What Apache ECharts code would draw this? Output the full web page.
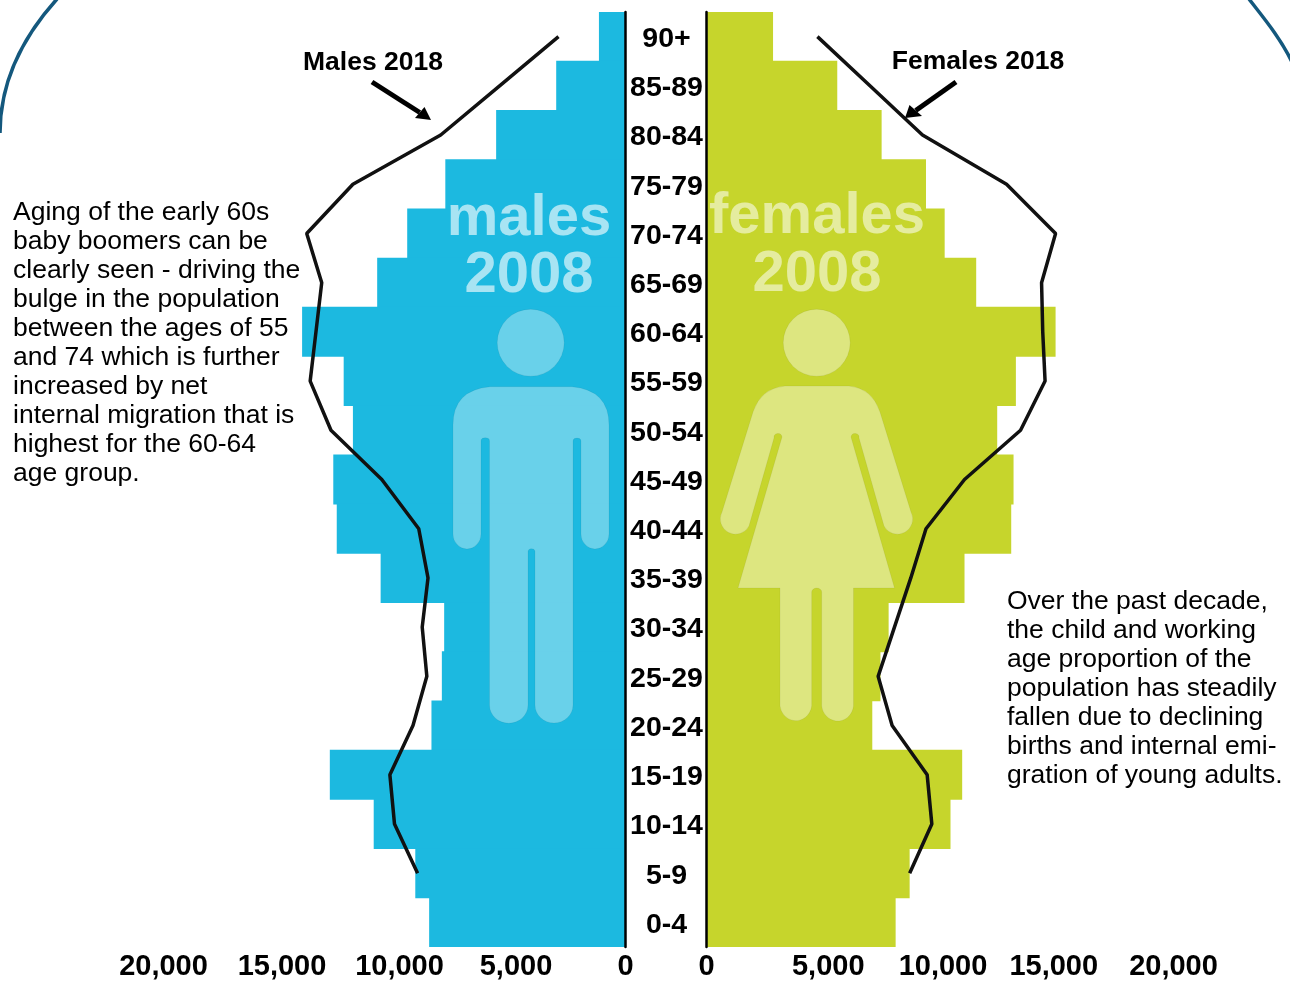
<!DOCTYPE html>
<html>
<head>
<meta charset="utf-8">
<title>Population pyramid</title>
<script src="https://cdn.jsdelivr.net/npm/echarts@6/dist/echarts.min.js"></script>
<style>
html, body { margin: 0; padding: 0; background: #fff; }
#main { width: 1290px; height: 981px; }
</style>
</head>
<body>
<div id="main"></div>
<script>
// age groups, top of the pyramid first
var ages = ['90+', '85-89', '80-84', '75-79', '70-74', '65-69', '60-64', '55-59', '50-54', '45-49',
    '40-44', '35-39', '30-34', '25-29', '20-24', '15-19', '10-14', '5-9', '0-4'];
var males2008 = [1150, 3000, 5600, 7800, 9450, 10750, 14000, 12200, 11800, 12650,
    12500, 10600, 7850, 7950, 8400, 12800, 10900, 9100, 8500];
var females2008 = [2850, 5600, 7500, 9400, 10200, 11550, 14950, 13250, 12450, 13150,
    13050, 11050, 7800, 7450, 7100, 10950, 10450, 8700, 8100];
// the 2018 lines stop at 5-9
var males2018 = [2900, 5450, 8000, 11800, 13800, 13150, 13400, 13650, 12750, 10550,
    8950, 8550, 8800, 8600, 9200, 10200, 10000, 9000, null];
var females2018 = [4750, 7000, 9250, 12850, 14950, 14350, 14400, 14500, 13450, 11050,
    9400, 8750, 8050, 7350, 7950, 9450, 9650, 8700, null];

var leftNote = 'Aging of the early 60s\nbaby boomers can be\nclearly seen - driving the\nbulge in the population\nbetween the ages of 55\nand 74 which is further\nincreased by net\ninternal migration that is\nhighest for the 60-64\nage group.';
var rightNote = 'Over the past decade,\nthe child and working\nage proportion of the\npopulation has steadily\nfallen due to declining\nbirths and internal emi-\ngration of young adults.';

var FONT = '"Liberation Sans", Arial, sans-serif';
var BLUE = '#1cb9e0';
var GREEN = '#c6d52c';

var malePath = 'M490 386.7 L572 386.7 Q609 390 609 425 L609 534 A14 15 0 0 1 581 534 L581 441 A4 3 0 0 0 573 441 L573 705 A19 18 0 0 1 535 705 L535 551 A3.6 3 0 0 0 528 551 L528 705 A19 18 0 0 1 489.5 705 L489.5 441 A4 3 0 0 0 481 441 L481 534 A14 15 0 0 1 453 534 L453 425 Q453 390 490 386.7 Z';
var femalePath = 'M785 386 L849 386 Q872 388 880 412 L911 512 A14 14 0 0 1 884 526 L859 438 A4 4 0 0 0 851 437 L894.5 588 L853.5 588 L853.5 706 A16 17 0 0 1 821.7 706 L821.7 592 A5 4 0 0 0 811.7 592 L811.7 706 A16 17 0 0 1 780 706 L780 588 L738 588 L782 437 A4 4 0 0 0 774 438 L749 526 A14 14 0 0 1 722 512 L753 412 Q761 388 785 386 Z';

// the graphic component has no plain path type, so register the two figures as shapes
echarts.graphic.registerShape('maleFigure', echarts.graphic.extendPath(malePath));
echarts.graphic.registerShape('femaleFigure', echarts.graphic.extendPath(femalePath));

var myChart = echarts.init(document.getElementById('main'));

// the tick labels in the picture sit a few px off their ticks, nudged with rich padding
function tickStyle(left, right) {
    return {
        color: '#000',
        fontFamily: FONT,
        fontWeight: 'bold',
        fontSize: 29,
        padding: [0, right, 0, left]
    };
}

function valueAxis(gridIndex, inverse, nudge) {
    var rich = {};
    Object.keys(nudge).forEach(function (v) {
        var d = nudge[v] * 2;
        rich['t' + v] = d > 0 ? tickStyle(d, 0) : tickStyle(0, -d);
    });
    return {
        type: 'value',
        gridIndex: gridIndex,
        inverse: inverse,
        min: 0,
        max: 20000,
        interval: 5000,
        splitLine: { show: false },
        axisLine: { show: false },
        axisTick: { show: false },
        axisLabel: {
            color: '#000',
            fontFamily: FONT,
            fontWeight: 'bold',
            fontSize: 29,
            margin: 5,
            rich: rich,
            formatter: function (v) {
                var s = v.toLocaleString('en-US');
                return nudge[v] ? '{t' + v + '|' + s + '}' : s;
            }
        }
    };
}

function label(text, x, y, size, bold, color, extra) {
    return {
        type: 'text',
        x: x,
        y: y,
        z: 6,
        style: Object.assign({
            text: text,
            fill: color,
            font: (bold ? 'bold ' : '') + size + 'px ' + FONT,
            textAlign: 'center',
            textVerticalAlign: 'middle'
        }, extra || {})
    };
}

function arrow(x1, y1, x2, y2, b1, b2) {
    return [
        { type: 'line', z: 6, shape: { x1: x1, y1: y1, x2: (b1[0] + b2[0]) / 2, y2: (b1[1] + b2[1]) / 2 }, style: { stroke: '#000', lineWidth: 5 } },
        { type: 'polygon', z: 6, shape: { points: [[x2, y2], b1, b2] }, style: { fill: '#000' } }
    ];
}

var graphics = [
    // rounded corners of the slide behind the chart
    { type: 'bezierCurve', z: 1, shape: { x1: 57, y1: -1, cpx1: 20, cpy1: 40, cpx2: 0, cpy2: 85, x2: 0, y2: 133 }, style: { fill: null, stroke: '#14587d', lineWidth: 3.5 } },
    { type: 'bezierCurve', z: 1, shape: { x1: 1249, y1: -1, cpx1: 1262, cpy1: 16, cpx2: 1280, cpy2: 37, x2: 1292, y2: 62 }, style: { fill: null, stroke: '#14587d', lineWidth: 3.5 } },

    // figures on top of the bars
    { type: 'circle', z: 3, shape: { cx: 530.7, cy: 342.7, r: 33.5 }, style: { fill: 'rgba(255,255,255,0.34)', stroke: 'rgba(0,0,0,0.05)' } },
    { type: 'maleFigure', z: 3, style: { fill: 'rgba(255,255,255,0.34)', stroke: 'rgba(0,0,0,0.05)' } },
    { type: 'circle', z: 3, shape: { cx: 816.7, cy: 342.7, r: 33.5 }, style: { fill: 'rgba(255,255,255,0.4)', stroke: 'rgba(0,0,0,0.05)' } },
    { type: 'femaleFigure', z: 3, style: { fill: 'rgba(255,255,255,0.4)', stroke: 'rgba(0,0,0,0.05)' } },

    label('males', 529, 219, 58, true, 'rgba(255,255,255,0.62)'),
    label('2008', 529, 276, 58, true, 'rgba(255,255,255,0.62)'),
    label('females', 817, 217, 58, true, 'rgba(255,255,255,0.55)'),
    label('2008', 817, 275, 58, true, 'rgba(255,255,255,0.55)'),

    label('Males 2018', 373, 63, 26.5, true, '#000'),
    label('Females 2018', 978, 62, 26.5, true, '#000'),

    label(leftNote, 13, 198, 26.5, false, '#000', { textAlign: 'left', textVerticalAlign: 'top', lineHeight: 29 }),
    label(rightNote, 1007, 587, 26.5, false, '#000', { textAlign: 'left', textVerticalAlign: 'top', lineHeight: 29 })
];
graphics = graphics.concat(
    arrow(372, 82, 431, 120, [415, 118], [424.5, 107]),
    arrow(956, 82, 905, 118, [909.5, 105], [922, 116])
);

var option = {
    animation: false,
    backgroundColor: '#fff',
    grid: [
        { left: 163.5, top: 12, width: 462, height: 935 },
        { left: 706.5, top: 12, width: 467, height: 935 }
    ],
    xAxis: [
        valueAxis(0, true, { 5000: 6, 10000: 5, 15000: 3 }),
        valueAxis(1, false, { 5000: 5, 10000: 3, 15000: -3 })
    ],
    yAxis: [
        {
            type: 'category',
            gridIndex: 0,
            data: ages,
            inverse: true,
            position: 'right',
            z: 5,
            axisTick: { show: false },
            axisLine: { onZero: false, lineStyle: { color: '#000', width: 2.5 } },
            axisLabel: {
                align: 'center',
                margin: 41,
                formatter: '{age|{value}}',
                rich: {
                    age: {
                        color: '#000',
                        fontFamily: FONT,
                        fontWeight: 'bold',
                        fontSize: 28.5,
                        padding: [5, 0, 0, 0]
                    }
                }
            }
        },
        {
            type: 'category',
            gridIndex: 1,
            data: ages,
            inverse: true,
            position: 'left',
            z: 5,
            axisTick: { show: false },
            axisLine: { onZero: false, lineStyle: { color: '#000', width: 2.5 } },
            axisLabel: { show: false }
        }
    ],
    series: [
        // a touch wider than the 49.2px band so neighbouring bars leave no seam
        { name: 'Males 2008', type: 'bar', xAxisIndex: 0, yAxisIndex: 0, data: males2008, barWidth: 50, itemStyle: { color: BLUE }, z: 2 },
        { name: 'Females 2008', type: 'bar', xAxisIndex: 1, yAxisIndex: 1, data: females2008, barWidth: 50, itemStyle: { color: GREEN }, z: 2 },
        { name: 'Males 2018', type: 'line', xAxisIndex: 0, yAxisIndex: 0, data: males2018, symbol: 'none', lineStyle: { color: '#111', width: 3.5 }, z: 4 },
        { name: 'Females 2018', type: 'line', xAxisIndex: 1, yAxisIndex: 1, data: females2018, symbol: 'none', lineStyle: { color: '#111', width: 3.5 }, z: 4 }
    ],
    graphic: graphics
};
myChart.setOption(option);
</script>
</body>
</html>
